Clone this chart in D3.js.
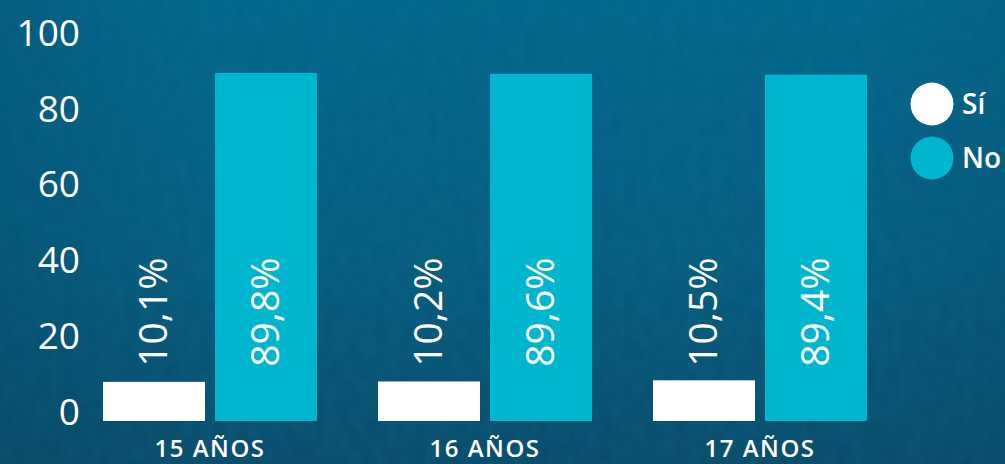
<!DOCTYPE html>
<html>
<head>
<meta charset="utf-8">
<script src="https://cdn.jsdelivr.net/npm/d3@7"></script>
<style>
  html, body { margin: 0; padding: 0; background: #0a5a7e; }
  svg { display: block; }
  svg text { font-family: "Open Sans", "Noto Sans", sans-serif; }
</style>
</head>
<body>
<svg id="chart" width="1005" height="464"></svg>
<script>
/*********************
	Data
**********************/
var categories = ["15 AÑOS", "16 AÑOS", "17 AÑOS"];
var series_names = ["Sí", "No"];
var si_values = [10.1, 10.2, 10.5];
var no_values = [89.8, 89.6, 89.4];
var tick_values = [0, 20, 40, 60, 80, 100];

var colors = {"Sí": "#ffffff", "No": "#00b6cf"};

/*********************
	Setup
**********************/
var svg = d3.select("#chart");
var width = 1005, height = 464;

// background: dark blue with a soft grainy texture
var defs = svg.append("defs");
var bg = defs.append("linearGradient")
    .attr("id", "bg")
    .attr("x1", "0%").attr("y1", "0%")
    .attr("x2", "0%").attr("y2", "100%");
bg.append("stop").attr("offset", "0%").attr("stop-color", "#03668c");
bg.append("stop").attr("offset", "55%").attr("stop-color", "#065b7f");
bg.append("stop").attr("offset", "100%").attr("stop-color", "#094a69");

var shade = defs.append("linearGradient")
    .attr("id", "shade")
    .attr("x1", "0%").attr("y1", "0%")
    .attr("x2", "100%").attr("y2", "0%");
shade.append("stop").attr("offset", "0%").attr("stop-color", "#03405c").attr("stop-opacity", 0.25);
shade.append("stop").attr("offset", "20%").attr("stop-color", "#03405c").attr("stop-opacity", 0);
shade.append("stop").attr("offset", "85%").attr("stop-color", "#03405c").attr("stop-opacity", 0);
shade.append("stop").attr("offset", "100%").attr("stop-color", "#03405c").attr("stop-opacity", 0.15);

var grain = defs.append("filter").attr("id", "grain")
    .attr("x", 0).attr("y", 0).attr("width", "100%").attr("height", "100%");
grain.append("feTurbulence")
    .attr("type", "fractalNoise")
    .attr("baseFrequency", "0.08 0.05")
    .attr("numOctaves", 3)
    .attr("seed", 4);
grain.append("feColorMatrix")
    .attr("type", "matrix")
    .attr("values", "0 0 0 0 0.01  0 0 0 0 0.22  0 0 0 0 0.32  0 0 0 -1.2 1.1");

svg.append("rect").attr("width", width).attr("height", height).attr("fill", "url(#bg)");
svg.append("rect").attr("width", width).attr("height", height)
    .attr("filter", "url(#grain)").attr("opacity", 0.2);
svg.append("rect").attr("width", width).attr("height", height).attr("fill", "url(#shade)");

/*********************
	Scales
**********************/
var x0 = d3.scaleBand()
    .domain(categories)
    .range([72.5, 897.5])
    .paddingInner(0.2218)
    .paddingOuter(0.1109);

var x1 = d3.scaleBand()
    .domain(series_names)
    .range([0, x0.bandwidth()])
    .paddingInner(0.0893)
    .paddingOuter(0);

// bar scale
var y = d3.scaleLinear().domain([0, 100]).range([421, 33.5]);
// tick label scale (labels sit slightly above the bar baseline)
var yTicks = d3.scaleLinear().domain([0, 100]).range([411, 32]);

/*********************
	Axis labels
**********************/
var yAxis = d3.axisLeft(yTicks).tickValues(tick_values).tickSize(0).tickPadding(0);
var gy = svg.append("g").attr("transform", "translate(80,0)").call(yAxis);
gy.attr("font-family", null);
gy.select(".domain").remove();
gy.selectAll("text")
    .attr("fill", "#ffffff")
    .attr("font-size", "37px")
    .attr("font-weight", 400)
    .attr("dy", "0.36em");

var xAxis = d3.axisBottom(x0).tickSize(0).tickPadding(0);
var gx = svg.append("g").attr("transform", "translate(0,457)").call(xAxis);
gx.attr("font-family", null);
gx.select(".domain").remove();
gx.selectAll("text")
    .attr("fill", "#ffffff")
    .attr("font-size", "24px")
    .attr("font-weight", 600)
    .attr("letter-spacing", "1.5px")
    .attr("y", 0)
    .attr("dy", 0);

/*********************
	Bars
**********************/
var rows = categories.map(function(c, i) {
    return [{cat: c, key: "Sí", value: si_values[i]},
            {cat: c, key: "No", value: no_values[i]}];
});

var groups = svg.selectAll("g.group")
    .data(rows)
    .enter().append("g")
    .attr("class", "group")
    .attr("transform", function(d) { return "translate(" + x0(d[0].cat) + ",0)"; });

groups.selectAll("rect")
    .data(function(d) { return d; })
    .enter().append("rect")
    .attr("x", function(d) { return x1(d.key); })
    .attr("width", x1.bandwidth())
    .attr("y", function(d) { return y(d.value); })
    .attr("height", function(d) { return y(0) - y(d.value); })
    .attr("fill", function(d) { return colors[d.key]; });

// value labels, rotated, all starting at the same height
var fmt = function(v) { return d3.format(".1f")(v).replace(".", ",") + "%"; };
groups.selectAll("text.val")
    .data(function(d) { return d; })
    .enter().append("text")
    .attr("class", "val")
    .attr("transform", function(d) {
        return "translate(" + (x1(d.key) + x1.bandwidth() / 2 - 1) + "," + y(14) + ") rotate(-90)";
    })
    .attr("dy", "0.36em")
    .attr("text-anchor", "start")
    .attr("fill", "#ffffff")
    .attr("font-size", "39px")
    .attr("font-weight", 400)
    .text(function(d) { return fmt(d.value); });

/*********************
	Legend
**********************/
var legend = svg.append("g").attr("transform", "translate(932,104)");
var items = legend.selectAll("g")
    .data(series_names)
    .enter().append("g")
    .attr("transform", function(d, i) { return "translate(0," + (i * 54) + ")"; });
items.append("circle")
    .attr("r", 21.5)
    .attr("fill", function(d) { return colors[d]; });
items.append("text")
    .attr("x", 30)
    .attr("dy", "0.36em")
    .attr("fill", "#ffffff")
    .attr("font-size", "28px")
    .attr("font-weight", 600)
    .text(function(d) { return d; });
</script>
</body>
</html>
